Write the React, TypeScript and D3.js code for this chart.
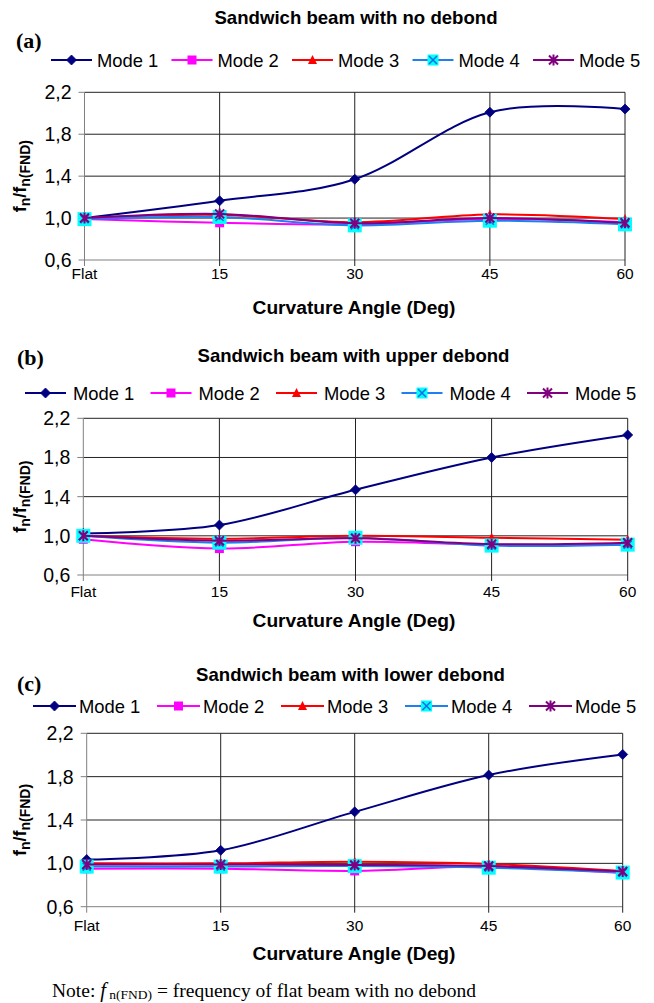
import React from "react";
import * as d3 from "d3";

// ---------- data ----------
const angles = ["Flat", "15", "30", "45", "60"];
const yTicks = [0.6, 1.0, 1.4, 1.8, 2.2];
const yTickLabels = ["0,6", "1,0", "1,4", "1,8", "2,2"];
const modeNames = ["Mode 1", "Mode 2", "Mode 3", "Mode 4", "Mode 5"];

const noDebondMode1 = [1.0, 1.165, 1.37, 2.01, 2.04];
const noDebondMode2 = [0.99, 0.955, 0.94, 0.99, 0.96];
const noDebondMode3 = [1.0, 1.03, 0.96, 1.035, 0.99];
const noDebondMode4 = [0.99, 1.01, 0.93, 0.975, 0.94];
const noDebondMode5 = [1.0, 1.04, 0.95, 1.0, 0.955];

const upperDebondMode1 = [1.025, 1.11, 1.47, 1.8, 2.03];
const upperDebondMode2 = [0.965, 0.87, 0.94, 0.91, 0.91];
const upperDebondMode3 = [1.0, 0.97, 1.0, 0.98, 0.96];
const upperDebondMode4 = [1.0, 0.93, 0.98, 0.9, 0.91];
const upperDebondMode5 = [1.0, 0.95, 0.975, 0.915, 0.93];

const lowerDebondMode1 = [1.035, 1.12, 1.475, 1.815, 2.005];
const lowerDebondMode2 = [0.95, 0.95, 0.93, 0.97, 0.91];
const lowerDebondMode3 = [1.0, 1.0, 1.015, 0.995, 0.93];
const lowerDebondMode4 = [0.97, 0.97, 0.975, 0.96, 0.915];
const lowerDebondMode5 = [0.99, 0.99, 0.985, 0.975, 0.925];

// ---------- styles ----------
const SANS = "'Liberation Sans', Arial, Helvetica, sans-serif";
const SERIF = "'Liberation Serif', 'Times New Roman', serif";
const lineColors = ["#000080", "#FF00FF", "#FF0000", "#1E80F0", "#800080"];

const layouts = [
  { x0: 84.5, x1: 625, yT: 92.3, yB: 260, titleX: 356, titleY: 17, labelX: 16, labelY: 40, legendY: 60, legendX: 51, legendStep: 120.5, lineLen: 41, textGap: 5, tickLabelY: 273, axisTitleY: 307 },
  { x0: 83.3, x1: 627.7, yT: 418.3, yB: 575, titleX: 353.5, titleY: 355, labelX: 17, labelY: 357, legendY: 393, legendX: 25, legendStep: 125.5, lineLen: 41, textGap: 7, tickLabelY: 591, axisTitleY: 620 },
  { x0: 86.7, x1: 622.7, yT: 733.3, yB: 906.7, titleX: 350.5, titleY: 674, labelX: 17, labelY: 683, legendY: 706, legendX: 33, legendStep: 124, lineLen: 43, textGap: 3, tickLabelY: 925, axisTitleY: 953 },
];

const panels = [
  { label: "(a)", title: "Sandwich beam with no debond", series: [noDebondMode1, noDebondMode2, noDebondMode3, noDebondMode4, noDebondMode5] },
  { label: "(b)", title: "Sandwich beam with upper debond", series: [upperDebondMode1, upperDebondMode2, upperDebondMode3, upperDebondMode4, upperDebondMode5] },
  { label: "(c)", title: "Sandwich beam with lower debond", series: [lowerDebondMode1, lowerDebondMode2, lowerDebondMode3, lowerDebondMode4, lowerDebondMode5] },
];

function Marker({ i, x, y, legend }: { i: number; x: number; y: number; legend?: boolean }) {
  if (i === 0) {
    const r = 5;
    return <path d={`M${x},${y - r}L${x + r},${y}L${x},${y + r}L${x - r},${y}Z`} fill="#000080" stroke="#000080" strokeWidth={0.8} />;
  }
  if (i === 1) {
    const s = 9;
    return <rect x={x - s / 2} y={y - s / 2} width={s} height={s} fill="#FF00FF" />;
  }
  if (i === 2) {
    const w = 9, h = 8;
    return <path d={`M${x},${y - h / 2 - 1}L${x + w / 2},${y + h / 2}L${x - w / 2},${y + h / 2}Z`} fill="#FF0000" />;
  }
  if (i === 3) {
    const s = legend ? 11 : 14;
    const c = 4;
    return (
      <g>
        <rect x={x - s / 2} y={y - s / 2} width={s} height={s} fill="#00FFFF" />
        <path d={`M${x - c},${y - c}L${x + c},${y + c}M${x - c},${y + c}L${x + c},${y - c}`} stroke="#1070E0" strokeWidth={1.6} />
      </g>
    );
  }
  const c = 4.5;
  return (
    <path
      d={`M${x - c},${y - c}L${x + c},${y + c}M${x - c},${y + c}L${x + c},${y - c}M${x},${y - c - 1}L${x},${y + c + 1}`}
      stroke="#800080"
      strokeWidth={2}
      fill="none"
    />
  );
}

function Panel({ p, L }: { p: (typeof panels)[number]; L: (typeof layouts)[number] }) {
  const x = d3.scalePoint<string>().domain(angles).range([L.x0, L.x1]);
  const y = d3.scaleLinear().domain([0.6, 2.2]).range([L.yB, L.yT]);
  const line = d3
    .line<number>()
    .x((_, i) => x(angles[i]) as number)
    .y((d) => y(d))
    .curve(d3.curveCardinal.tension(0));
  const yMid = (L.yT + L.yB) / 2;
  return (
    <g>
      <text x={L.labelX} y={L.labelY} dominantBaseline="central" fontFamily={SERIF} fontWeight="bold" fontSize={22}>
        {p.label}
      </text>
      <text x={L.titleX} y={L.titleY} textAnchor="middle" dominantBaseline="central" fontFamily={SANS} fontWeight="bold" fontSize={18.6}>
        {p.title}
      </text>
      {/* legend */}
      {modeNames.map((m, i) => {
        const lx = L.legendX + i * L.legendStep;
        return (
          <g key={m}>
            <line x1={lx} x2={lx + L.lineLen} y1={L.legendY} y2={L.legendY} stroke={lineColors[i]} strokeWidth={2} />
            <Marker i={i} x={lx + L.lineLen / 2} y={L.legendY} legend />
            <text x={lx + L.lineLen + L.textGap} y={L.legendY} dominantBaseline="central" fontFamily={SANS} fontSize={18.4}>
              {m}
            </text>
          </g>
        );
      })}
      {/* grid */}
      {yTicks.map((t, i) => (
        <g key={t}>
          <line x1={L.x0} x2={L.x1} y1={y(t)} y2={y(t)} stroke={i === 0 ? "#808080" : "#222"} strokeWidth={1} />
          <line x1={L.x0 - 6} x2={L.x0} y1={y(t)} y2={y(t)} stroke="#808080" strokeWidth={1} />
          <text x={L.x0 - 13} y={y(t)} textAnchor="end" dominantBaseline="central" fontFamily={SANS} fontSize={19.5}>
            {yTickLabels[i]}
          </text>
        </g>
      ))}
      {angles.map((a, i) => (
        <g key={a}>
          <line x1={x(a)} x2={x(a)} y1={L.yT} y2={L.yB + 6} stroke={i === 0 ? "#808080" : "#222"} strokeWidth={1} />
          <text x={x(a)} y={L.tickLabelY} textAnchor="middle" dominantBaseline="central" fontFamily={SANS} fontSize={15.5}>
            {a}
          </text>
        </g>
      ))}
      <text x={354} y={L.axisTitleY} textAnchor="middle" dominantBaseline="central" fontFamily={SANS} fontWeight="bold" fontSize={19.2}>
        Curvature Angle (Deg)
      </text>
      <text transform={`translate(26,${yMid}) rotate(-90)`} textAnchor="middle" fontFamily={SANS} fontWeight="bold" fontSize={18}>
        f<tspan fontSize={14} dy={4}>n</tspan>
        <tspan dy={-4}>/f</tspan>
        <tspan fontSize={14} dy={4}>n(FND)</tspan>
      </text>
      {/* series */}
      {p.series.map((s, i) => (
        <g key={i}>
          <path d={line(s) || ""} fill="none" stroke={lineColors[i]} strokeWidth={2} />
          {s.map((v, j) => (
            <Marker key={j} i={i} x={x(angles[j]) as number} y={y(v)} />
          ))}
        </g>
      ))}
    </g>
  );
}

export default function App() {
  return (
    <svg width={654} height={1003} style={{ position: "absolute", left: 0, top: 0, background: "#fff" }}>
      <rect width={654} height={1003} fill="#fff" />
      {panels.map((p, i) => (
        <Panel key={i} p={p} L={layouts[i]} />
      ))}
      <text x={52} y={990} dominantBaseline="central" fontFamily={SERIF} fontSize={19.5}>
        Note:{" "}
        <tspan fontStyle="italic" fontSize={20.5}>f</tspan>
        <tspan fontSize={13.5} dy={4}> n(FND)</tspan>
        <tspan dy={-4}> = frequency of flat beam with no debond</tspan>
      </text>
    </svg>
  );
}
